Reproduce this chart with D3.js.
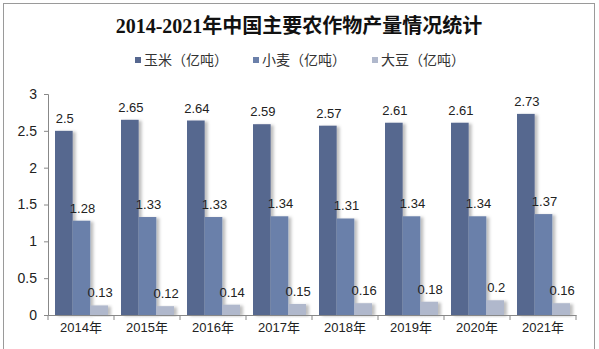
<!DOCTYPE html>
<html><head><meta charset="utf-8">
<script src="https://cdn.jsdelivr.net/npm/d3@7"></script>
<style>body{margin:0;background:#fff;} svg{display:block;}</style>
</head><body><svg id="c" width="599" height="349"></svg>
<script>
const years = ["2014年","2015年","2016年","2017年","2018年","2019年","2020年","2021年"];
const seriesNames = ["玉米（亿吨）","小麦（亿吨）","大豆（亿吨）"];
const corn = [2.5,2.65,2.64,2.59,2.57,2.61,2.61,2.73];
const wheat = [1.28,1.33,1.33,1.34,1.31,1.34,1.34,1.37];
const soybean = [0.13,0.12,0.14,0.15,0.16,0.18,0.2,0.16];
const yTicks = [0,0.5,1,1.5,2,2.5,3];
const colors = ["#56678f","#6b80aa","#b0b8cc"];

const svg = d3.select("#c");
const defs = svg.append("defs");
const f = defs.append("filter").attr("id","sh").attr("x","-20%").attr("y","-10%").attr("width","160%").attr("height","130%");
f.append("feDropShadow").attr("dx",3).attr("dy",1).attr("stdDeviation",1.5).attr("flood-color","#000").attr("flood-opacity",0.25);

svg.append("rect").attr("x",3.5).attr("y",3.5).attr("width",591).attr("height",350).attr("fill","#fff").attr("stroke","#9a9a9a").attr("stroke-width",1);

svg.append("text").attr("x",299).attr("y",33).attr("text-anchor","middle")
  .attr("font-family","'Liberation Serif','Noto Sans CJK SC',serif").attr("font-weight","bold").attr("font-size",20).attr("fill","#111")
  .text("2014-2021年中国主要农作物产量情况统计");

const legX = [135,253,372];
seriesNames.forEach((n,i)=>{
  const g = svg.append("g").attr("transform",`translate(${legX[i]},60)`);
  g.append("rect").attr("x",0).attr("y",-3).attr("width",6).attr("height",6).attr("fill",colors[i]);
  g.append("text").attr("x",9).attr("y",5).attr("font-family","'Noto Sans CJK SC',sans-serif").attr("font-size",14).attr("fill","#333").text(n);
});

const x = d3.scaleBand().domain(years).range([48,576]).padding(0);
const xs = d3.scaleBand().domain([0,1,2]).range([7,60]).padding(0);
const y = d3.scaleLinear().domain([0,3]).range([315,94]);

const yAxis = svg.append("g").attr("transform","translate(48,0)")
  .call(d3.axisLeft(y).tickValues(yTicks).tickSize(4).tickFormat(d=>String(d)));
yAxis.selectAll("path,line").attr("stroke","#888");
yAxis.selectAll("text").attr("font-family","'Liberation Sans',Arial,sans-serif").attr("font-size",14).attr("fill","#222").attr("dx",-4);

const data = [corn,wheat,soybean];
const g = svg.append("g");
years.forEach((yr,i)=>{
  data.forEach((s,j)=>{
    const bx = x(yr)+xs(j);
    g.append("rect").attr("x",bx).attr("y",y(s[i])).attr("width",xs.bandwidth()).attr("height",y(0)-y(s[i]))
      .attr("fill",colors[j]).attr("filter","url(#sh)");
  });
});
years.forEach((yr,i)=>{
  data.forEach((s,j)=>{
    const bx = x(yr)+xs(j);
    svg.append("text").attr("x",bx+xs.bandwidth()/2+1).attr("y",y(s[i])-8).attr("text-anchor","middle")
      .attr("font-family","'Liberation Sans',Arial,sans-serif").attr("font-size",13).attr("fill","#222").text(String(s[i]));
  });
});

const xAxis = svg.append("g").attr("transform","translate(0,315)")
  .call(d3.axisBottom(x).tickSize(0).tickSizeOuter(0));
xAxis.select("path").attr("stroke","#888");
xAxis.selectAll("text").attr("font-family","'Liberation Sans','Noto Sans CJK SC',sans-serif").attr("font-size",13).attr("fill","#222").attr("dy","1.1em");
svg.append("g").selectAll("line").data(years.concat(["end"])).join("line")
  .attr("x1",(d,i)=>48+i*x.bandwidth()).attr("x2",(d,i)=>48+i*x.bandwidth())
  .attr("y1",315).attr("y2",320).attr("stroke","#888");
</script></body></html>
